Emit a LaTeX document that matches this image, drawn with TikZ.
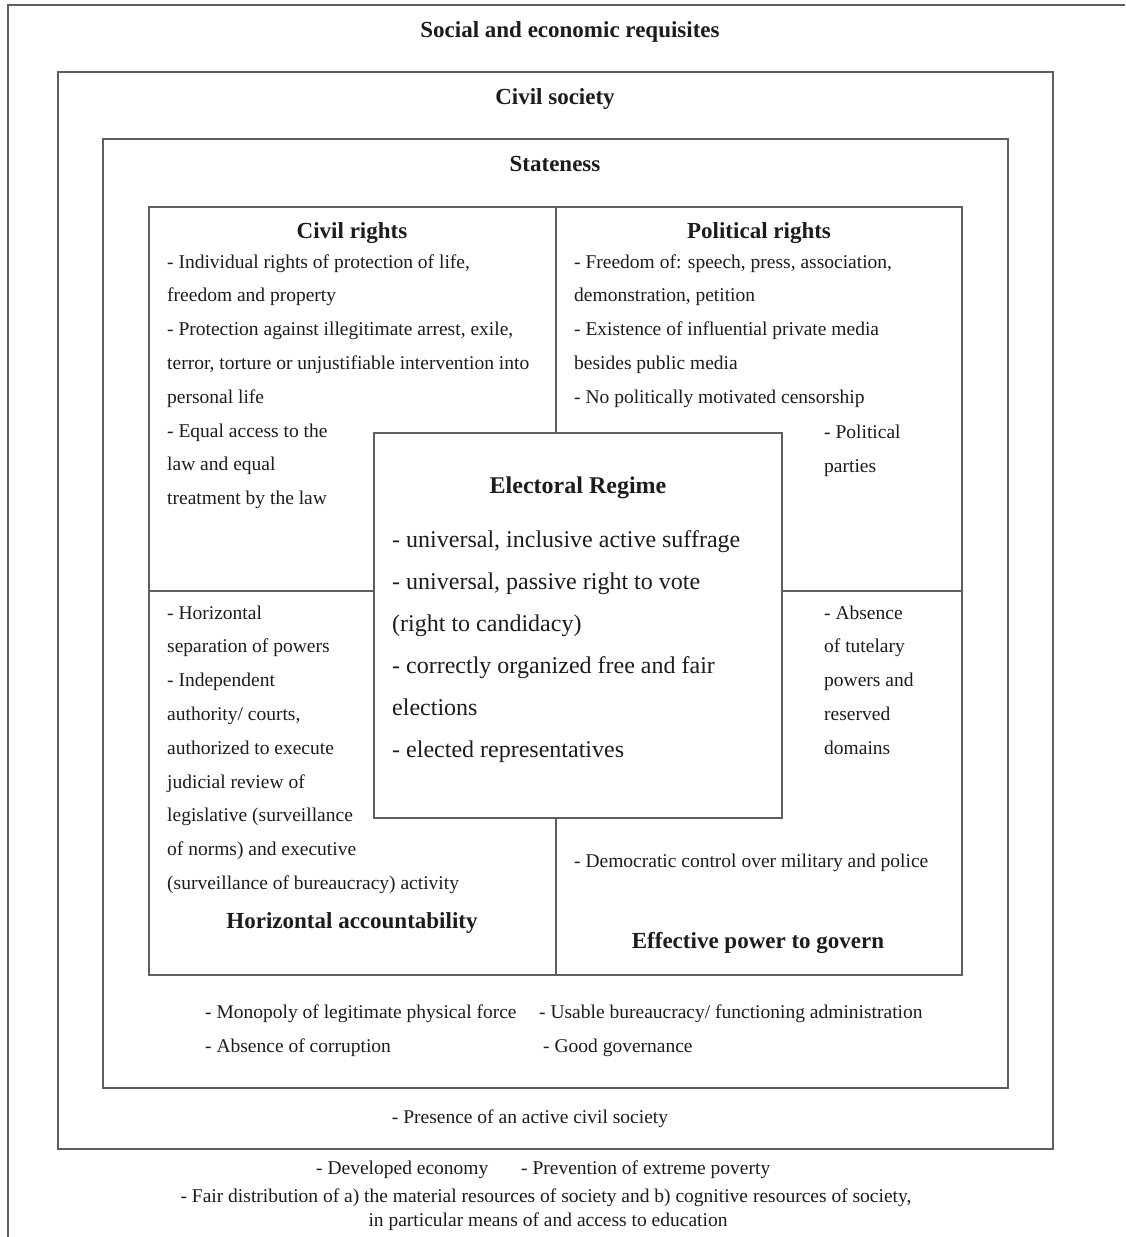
\documentclass[tikz,border=0pt]{standalone}
\usepackage{fontspec}
\setmainfont{Liberation Serif}
\definecolor{framegrey}{HTML}{5E5E5E}
\definecolor{inkdark}{HTML}{1C1C1C}

\begin{document}
\begin{tikzpicture}[x=1pt,y=-1pt,
    frame/.style={draw=framegrey, line width=1.7pt},
    body/.style={anchor=base west, inner sep=0pt, text=inkdark, font=\fontsize{19.5}{23}\selectfont},
    head/.style={anchor=base, inner sep=0pt, text=inkdark, font=\fontsize{23}{27}\selectfont\bfseries},
    erbody/.style={body, font=\fontsize{24}{28}\selectfont}]
    \useasboundingbox (0,0) rectangle (1125,1237);

    % frames
    \draw[frame] (8,1237) -- (8,5) -- (1125,5);
    \draw[frame] (58,72) rectangle (1053,1149);
    \draw[frame] (103,139) rectangle (1008,1088);
    \draw[frame] (149,207) rectangle (962,975);
    \draw[frame] (556,207) -- (556,975);
    \draw[frame] (149,591) -- (962,591);
    \draw[frame, fill=white] (374,433) rectangle (782,818);

    % layer titles
    \node[head] (socreq) at (570,37) {Social and economic requisites};
    \node[head] (civsoc) at (555,104) {Civil society};
    \node[head] (stateness) at (555,171) {Stateness};

    % civil rights
    \node[head] (civrights) at (352,238) {Civil rights};
    \foreach \t [count=\i] in {{- Individual rights of protection of life,}, {freedom and property},
        {- Protection against illegitimate arrest, exile,}, {terror, torture or unjustifiable intervention into},
        {personal life}, {- Equal access to the}, {law and equal}, {treatment by the law}}
        \node[body] (cr-\i) at (167,{268+33.8*(\i-1)}) {\t};

    % political rights
    \node[head] (polrights) at (759,238) {Political rights};
    \foreach \t [count=\i] in {{- Freedom of: speech, press, association,}, {demonstration, petition},
        {- Existence of influential private media}, {besides public media},
        {- No politically motivated censorship}}
        \node[body] (pr-\i) at (574,{268+33.8*(\i-1)}) {\t};
    \node[body] (pr-6) at (824,438) {- Political};
    \node[body] (pr-7) at (824,472) {parties};

    % electoral regime
    \node[head, font=\fontsize{24}{28}\selectfont\bfseries] (elreg) at (578,493) {Electoral Regime};
    \foreach \t [count=\i] in {{- universal, inclusive active suffrage}, {- universal, passive right to vote},
        {(right to candidacy)}, {- correctly organized free and fair}, {elections},
        {- elected representatives}}
        \node[erbody] (er-\i) at (392,{547+42*(\i-1)}) {\t};

    % horizontal accountability
    \foreach \t [count=\i] in {{- Horizontal}, {separation of powers}, {- Independent}, {authority/ courts,},
        {authorized to execute}, {judicial review of}, {legislative (surveillance},
        {of norms) and executive}, {(surveillance of bureaucracy) activity}}
        \node[body] (ha-\i) at (167,{619+33.8*(\i-1)}) {\t};
    \node[head] (horacc) at (352,928) {Horizontal accountability};

    % effective power to govern
    \foreach \t [count=\i] in {{- Absence}, {of tutelary}, {powers and}, {reserved}, {domains}}
        \node[body] (ep-\i) at (824,{619+33.8*(\i-1)}) {\t};
    \node[body] (ep-6) at (574,867) {- Democratic control over military and police};
    \node[head] (effpow) at (758,948) {Effective power to govern};

    % stateness items
    \node[body] (st-1) at (205,1018) {- Monopoly of legitimate physical force};
    \node[body] (st-2) at (205,1052) {- Absence of corruption};
    \node[body] (st-3) at (539,1018) {- Usable bureaucracy/ functioning administration};
    \node[body] (st-4) at (543,1052) {- Good governance};

    % civil society item
    \node[body, anchor=base] (cs-1) at (530,1123) {- Presence of an active civil society};

    % social and economic requisites
    \node[body] (se-1) at (316,1174) {- Developed economy};
    \node[body] (se-2) at (521,1174) {- Prevention of extreme poverty};
    \node[body, anchor=base] (se-3) at (546,1202) {- Fair distribution of a) the material resources of society and b) cognitive resources of society,};
    \node[body, anchor=base] (se-4) at (548,1226) {in particular means of and access to education};
\end{tikzpicture}
\end{document}
